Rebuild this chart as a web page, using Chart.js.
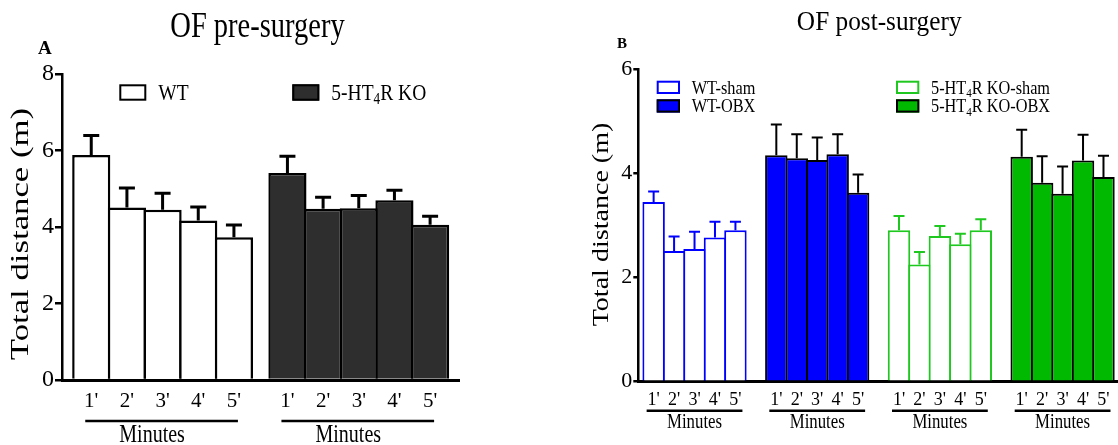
<!DOCTYPE html>
<html>
<head>
<meta charset="utf-8">
<script src="https://cdn.jsdelivr.net/npm/chart.js@4"></script>
<style>
  html, body { margin: 0; padding: 0; background: #fff; }
  #wrap { position: relative; width: 1118px; height: 445px; overflow: hidden; }
  canvas { position: absolute; top: 0; }
  #pre { left: 0; }
  #post { left: 560px; }
</style>
</head>
<body>
<div id="wrap">
  <canvas id="pre" width="560" height="445"></canvas>
  <canvas id="post" width="558" height="445"></canvas>
</div>
<script>
// ---- data (mean + upper SEM) ----
const minuteLabels = ["1'", "2'", "3'", "4'", "5'"];

// A: OF pre-surgery
const wtMean = [5.88, 4.51, 4.45, 4.17, 3.73];
const wtSem  = [0.55, 0.55, 0.47, 0.39, 0.36];
const koMean = [5.41, 4.48, 4.49, 4.70, 4.06];
const koSem  = [0.48, 0.34, 0.37, 0.30, 0.26];

// B: OF post-surgery
const wtShamMean = [3.45, 2.51, 2.55, 2.77, 2.91];
const wtShamSem  = [0.22, 0.30, 0.35, 0.32, 0.18];
const wtObxMean  = [4.35, 4.29, 4.26, 4.37, 3.63];
const wtObxSem   = [0.61, 0.48, 0.45, 0.40, 0.37];
const koShamMean = [2.91, 2.25, 2.80, 2.64, 2.91];
const koShamSem  = [0.29, 0.26, 0.21, 0.22, 0.23];
const koObxMean  = [4.32, 3.82, 3.61, 4.25, 3.93];
const koObxSem   = [0.54, 0.53, 0.54, 0.51, 0.43];

const BLUE = '#0000ff';
const GREEN = '#00b900';
const GREEN_LINE = '#1ec81e';
const DARK = '#2e2e2e';
const FONT = '"Liberation Serif", "Times New Roman", serif';

Chart.defaults.font.family = FONT;
Chart.defaults.color = '#000';

// x position of bar i in group g (groups separated by a gap, in bar widths)
const xOf = (g, i, gap) => g * (minuteLabels.length + gap) + i;
const toPoints = (vals, g, gap) => vals.map((v, i) => ({ x: xOf(g, i, gap), y: v }));

function stretchText(ctx, str, x, y, o) {
  ctx.save();
  ctx.translate(x, y);
  if (o.rot) ctx.rotate(o.rot);
  ctx.scale(o.sx || 1, o.sy || 1);
  ctx.font = (o.bold ? 'bold ' : '') + o.size + 'px ' + FONT;
  ctx.fillStyle = '#000';
  ctx.textAlign = o.align || 'left';
  ctx.textBaseline = 'alphabetic';
  ctx.fillText(str, 0, 0);
  ctx.restore();
}

// "_4" = subscript 4
function richText(ctx, label, x, y, size, sy) {
  const parts = [];
  label.split('_').forEach((chunk, k) => {
    if (k === 0) { parts.push({ t: chunk }); return; }
    parts.push({ t: chunk[0], sub: true });
    parts.push({ t: chunk.slice(1) });
  });
  let cx = x;
  parts.forEach(p => {
    if (!p.t) return;
    const sz = p.sub ? size * 0.68 : size;
    ctx.font = sz + 'px ' + FONT;
    const w = ctx.measureText(p.t).width;
    stretchText(ctx, p.t, cx, y + (p.sub ? size * 0.22 : 0), { size: sz, sy: sy });
    cx += w;
  });
}

// upper error bars from each dataset's sem array
const errorBars = {
  id: 'errorBars',
  afterDatasetsDraw(chart) {
    const ctx = chart.ctx, y = chart.scales.y;
    chart.data.datasets.forEach((ds, di) => {
      if (!ds.sem) return;
      const meta = chart.getDatasetMeta(di);
      ctx.save();
      ctx.strokeStyle = ds.errColor;
      ctx.lineWidth = ds.errWidth;
      meta.data.forEach((bar, j) => {
        const v = ds.data[j].y;
        const top = y.getPixelForValue(v);
        const end = y.getPixelForValue(v + ds.sem[j]);
        const cx = bar.x, half = ds.capWidth / 2;
        ctx.beginPath();
        ctx.moveTo(cx, top);
        ctx.lineTo(cx, end);
        ctx.moveTo(cx - half, end + ds.errWidth / 2);
        ctx.lineTo(cx + half, end + ds.errWidth / 2);
        ctx.stroke();
      });
      ctx.restore();
    });
  }
};

// titles, legend, "Minutes" group lines
function makeDeco(c) {
  return {
    id: 'deco',
    afterDraw(chart) {
      const ctx = chart.ctx;
      stretchText(ctx, c.title, c.titleX, c.titleY, { size: c.titleSize, sy: c.titleSy, align: 'center' });
      stretchText(ctx, c.letter, c.letterX, c.letterY, { size: c.letterSize, bold: true });
      stretchText(ctx, 'Total distance (m)', c.yTitleX, c.yTitleY,
        { size: c.yTitleSize, sx: c.yTitleSx, rot: -Math.PI / 2, align: 'center' });

      c.legend.forEach(item => {
        ctx.save();
        ctx.fillStyle = item.fill;
        ctx.fillRect(item.x, item.y, c.boxW, c.boxH);
        ctx.strokeStyle = item.stroke;
        ctx.lineWidth = 2;
        ctx.strokeRect(item.x + 1, item.y + 1, c.boxW - 2, c.boxH - 2);
        ctx.restore();
        richText(ctx, item.label, item.x + c.boxW + c.textGap, item.y + c.boxH - 0.5, c.legendSize, c.legendSy);
      });

      chart.data.datasets.forEach((ds, di) => {
        const bars = chart.getDatasetMeta(di).data;
        const x0 = bars[0].x - c.lineLead, x1 = bars[bars.length - 1].x + c.lineTail;
        ctx.save();
        ctx.strokeStyle = '#000';
        ctx.lineWidth = c.lineWidth;
        ctx.beginPath();
        ctx.moveTo(x0, c.lineY);
        ctx.lineTo(x1, c.lineY);
        ctx.stroke();
        ctx.restore();
        stretchText(ctx, 'Minutes', (x0 + x1) / 2 + c.minShift, c.minY, { size: c.minSize, sy: c.minSy, align: 'center' });
      });
    }
  };
}

function xScale(min, max, height, fontSize, padding, xs) {
  return {
    type: 'linear', min: min, max: max, offset: false,
    grid: { display: false, drawTicks: false, offset: false },
    border: { color: '#000', width: 3 },
    afterBuildTicks: s => { s.ticks = xs.map(v => ({ value: v })); },
    afterFit: s => { s.height = height; },
    ticks: {
      autoSkip: false, maxRotation: 0, padding: padding, color: '#000',
      font: { size: fontSize },
      callback: (v, i) => minuteLabels[i % minuteLabels.length]
    }
  };
}

function yScale(max, width, fontSize, tickLen) {
  return {
    min: 0, max: max,
    ticks: { stepSize: 2, padding: 1, color: '#000', font: { size: fontSize } },
    grid: { drawOnChartArea: false, drawTicks: true, tickLength: tickLen, color: '#000', lineWidth: 2.5 },
    border: { color: '#000', width: 2.5 },
    afterFit: s => { s.width = width; }
  };
}

// ---- A: pre-surgery ----
const GAP_A = 0.5;
const preGroups = [
  { mean: wtMean, sem: wtSem, fill: '#fff', line: '#000', err: '#000' },
  { mean: koMean, sem: koSem, fill: DARK, line: '#000', err: '#000' }
];
const preX = [];
preGroups.forEach((g, gi) => g.mean.forEach((v, i) => preX.push(xOf(gi, i, GAP_A))));

new Chart(document.getElementById('pre'), {
  type: 'bar',
  data: {
    datasets: preGroups.map((g, gi) => ({
      data: toPoints(g.mean, gi, GAP_A), sem: g.sem,
      backgroundColor: g.fill, borderColor: g.line, borderWidth: 2.5,
      grouped: false, barPercentage: 1.07, categoryPercentage: 1,
      errColor: g.err, errWidth: 3, capWidth: 16
    }))
  },
  options: {
    responsive: false, animation: false, events: [],
    layout: { padding: { top: 74, right: 101, left: 0, bottom: 0 } },
    plugins: { legend: { display: false }, tooltip: { enabled: false }, title: { display: false } },
    scales: {
      x: xScale(-0.82, 10.31, 65, 21, 8.5, preX),
      y: yScale(8, 62, 24, 7)
    }
  },
  plugins: [errorBars, makeDeco({
    title: 'OF pre-surgery', titleX: 257.5, titleY: 36.5, titleSize: 28.5, titleSy: 1.24,
    letter: 'A', letterX: 38, letterY: 54, letterSize: 19,
    yTitleX: 28, yTitleY: 234, yTitleSize: 25, yTitleSx: 1.39,
    boxW: 27, boxH: 16.4, textGap: 12, legendSize: 19.5, legendSy: 1.2,
    legend: [
      { label: 'WT', fill: '#fff', stroke: '#000', x: 119.3, y: 84.3 },
      { label: '5-HT_4R KO', fill: DARK, stroke: '#000', x: 292.3, y: 84.3 }
    ],
    lineY: 421, lineLead: 6, lineTail: 4, lineWidth: 2.5,
    minY: 441.5, minSize: 20, minSy: 1.25, minShift: -9.5
  })]
});

// ---- B: post-surgery ----
const GAP_B = 1;
const postGroups = [
  { mean: wtShamMean, sem: wtShamSem, fill: '#fff', line: BLUE, err: BLUE },
  { mean: wtObxMean,  sem: wtObxSem,  fill: BLUE, line: '#000', err: '#000' },
  { mean: koShamMean, sem: koShamSem, fill: '#fff', line: GREEN_LINE, err: GREEN_LINE },
  { mean: koObxMean,  sem: koObxSem,  fill: GREEN, line: '#000', err: '#000' }
];
const postX = [];
postGroups.forEach((g, gi) => g.mean.forEach((v, i) => postX.push(xOf(gi, i, GAP_B))));

new Chart(document.getElementById('post'), {
  type: 'bar',
  data: {
    datasets: postGroups.map((g, gi) => ({
      data: toPoints(g.mean, gi, GAP_B), sem: g.sem,
      backgroundColor: g.fill, borderColor: g.line, borderWidth: 2,
      grouped: false, barPercentage: 1.098, categoryPercentage: 1,
      errColor: g.err, errWidth: 2, capWidth: 11
    }))
  },
  options: {
    responsive: false, animation: false, events: [],
    layout: { padding: { top: 69.3, right: 0, left: 0, bottom: 0 } },
    plugins: { legend: { display: false }, tooltip: { enabled: false }, title: { display: false } },
    scales: {
      x: xScale(-0.75, 22.71, 63.3, 18, 8, postX),
      y: yScale(6, 78.3, 22, 5)
    }
  },
  plugins: [errorBars, makeDeco({
    title: 'OF post-surgery', titleX: 319.2, titleY: 30, titleSize: 25.3, titleSy: 1.1,
    letter: 'B', letterX: 57, letterY: 48, letterSize: 15,
    yTitleX: 48, yTitleY: 224.5, yTitleSize: 23, yTitleSx: 1.22,
    boxW: 23.3, boxH: 13.3, textGap: 11.7, legendSize: 16.3, legendSy: 1.14,
    legend: [
      { label: 'WT-sham', fill: '#fff', stroke: BLUE, x: 96.7, y: 80.7 },
      { label: 'WT-OBX', fill: BLUE, stroke: '#000', x: 96.7, y: 99.3 },
      { label: '5-HT_4R KO-sham', fill: '#fff', stroke: GREEN_LINE, x: 336, y: 80.7 },
      { label: '5-HT_4R KO-OBX', fill: GREEN, stroke: '#000', x: 336, y: 99.3 }
    ],
    lineY: 410.7, lineLead: 7, lineTail: 7, lineWidth: 2.5,
    minY: 428, minSize: 16.8, minSy: 1.25, minShift: 0
  })]
});
</script>
</body>
</html>
